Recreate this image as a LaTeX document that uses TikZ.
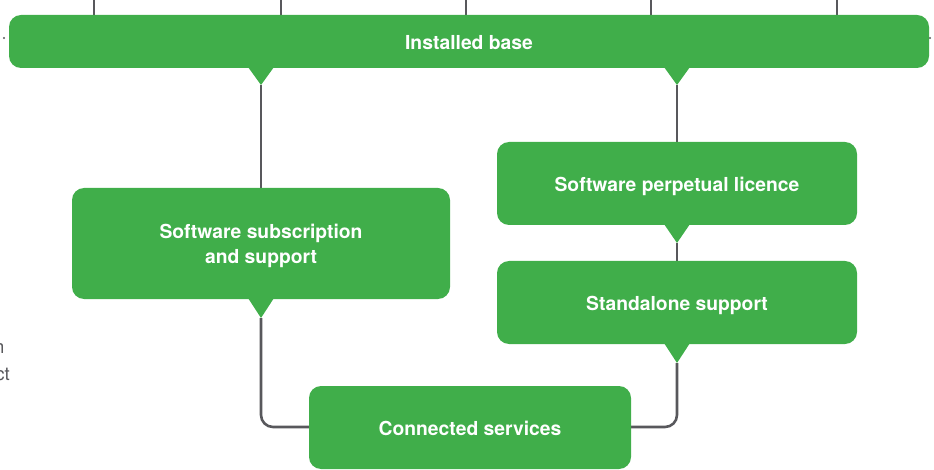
\documentclass[tikz,border=0pt]{standalone}
\usepackage{fontspec}
\setmainfont{TeX Gyre Heros}
\usetikzlibrary{calc}
\definecolor{boxgreen}{RGB}{64,174,74}
\definecolor{linegray}{RGB}{88,88,92}
\newcommand{\lowtext}[1]{\raisebox{-3pt}[\height][\depth]{\begin{tabular}{@{}c@{}}#1\end{tabular}}}
\tikzset{
  gbox/.style={fill=boxgreen, rounded corners=12pt, text=white, inner sep=0pt,
    font=\bfseries\fontsize{19.3}{25}\selectfont},
  conn/.style={draw=linegray, line width=2.6pt, rounded corners=12pt},
  side/.style={text=linegray, font=\fontsize{18.5}{27}\selectfont, inner sep=0pt},
}
\begin{document}
\begin{tikzpicture}[x=1pt,y=-1pt]
\useasboundingbox (0,0) rectangle (934,470);
% top incoming lines
\foreach \xx/\nm in {94/t1,281/t2,466/t3,651/t4,837/t5}{
  \coordinate (\nm) at (\xx,0);
  \draw[conn] (\nm) -- (\xx,20);
}
% side dots
\fill[linegray] (4,38) circle (1.2);
\fill[linegray] (930,38) circle (1.2);
% pointer apex coordinates
\coordinate (pA) at (261,85);
\coordinate (pB) at (677,85);
\coordinate (pC) at (261,318);
\coordinate (pD) at (677,243);
\coordinate (pE) at (677,363);
% connectors
\draw[conn] (pA) -- (261,195);
\draw[conn] (pB) -- (677,150);
\draw[conn] (pD) -- (677,268);
\draw[conn] (pC) -- (261,427) -- (320,427);
\draw[conn] (pE) -- (677,427) -- (620,427);
% boxes
\node[gbox, minimum width=920pt, minimum height=53pt] (ib) at (469,41.5) {\lowtext{Installed base}};
\node[gbox, minimum width=378pt, minimum height=111pt] (sss) at (261,243.5) {\lowtext{Software subscription\\and support}};
\node[gbox, minimum width=360pt, minimum height=83pt] (spl) at (677,183.5) {\lowtext{Software perpetual licence}};
\node[gbox, minimum width=360pt, minimum height=83pt] (sa) at (677,302.5) {\lowtext{Standalone support}};
\node[gbox, minimum width=322pt, minimum height=83pt] (cs) at (470,427.5) {\lowtext{Connected services}};
% pointers
\fill[boxgreen] (248,67) -- (274,67) -- (pA) -- cycle;
\fill[boxgreen] (664,67) -- (690,67) -- (pB) -- cycle;
\fill[boxgreen] (248,298) -- (274,298) -- (pC) -- cycle;
\fill[boxgreen] (664,224) -- (690,224) -- (pD) -- cycle;
\fill[boxgreen] (664,343) -- (690,343) -- (pE) -- cycle;
% clipped side text
\node[side, anchor=base east] (s1) at (4.5,353) {n};
\node[side, anchor=base east] (s2) at (10,380) {ct};
\end{tikzpicture}
\end{document}
